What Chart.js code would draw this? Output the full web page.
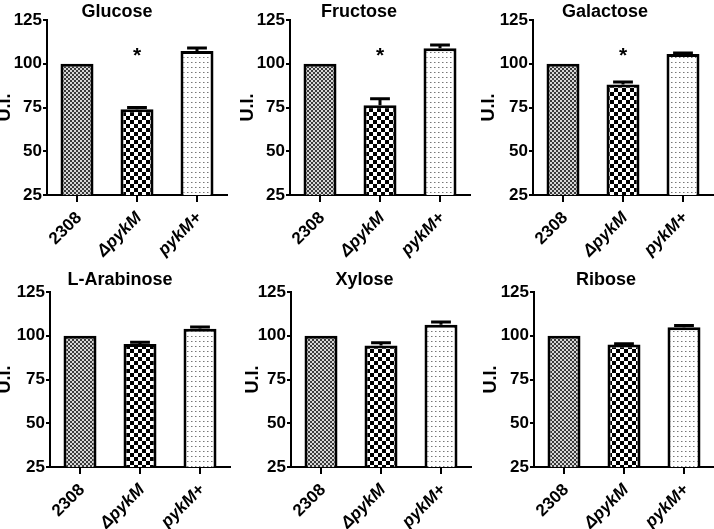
<!DOCTYPE html>
<html>
<head>
<meta charset="utf-8">
<script src="https://cdn.jsdelivr.net/npm/chart.js@4.4.0/dist/chart.umd.min.js"></script>
<style>
  html, body { margin: 0; padding: 0; background: #fff; overflow: hidden; width: 714px; height: 529px; }
  canvas { position: absolute; }
</style>
</head>
<body>
<div id="wrap"></div>
<script>
const categories = ['2308', '\u0394pykM', 'pykM+'];
const yTicks = [25, 50, 75, 100, 125];
const sugarNames = ['Glucose', 'Fructose', 'Galactose', 'L-Arabinose', 'Xylose', 'Ribose'];

const glucoseMeans = [100, 74.0, 107.3];
const glucoseErrors = [0, 1.0, 1.7];
const fructoseMeans = [100, 76.3, 108.8];
const fructoseErrors = [0, 3.7, 1.9];
const galactoseMeans = [100, 88.2, 105.6];
const galactoseErrors = [0, 1.4, 0.5];
const arabinoseMeans = [100, 95.3, 104.0];
const arabinoseErrors = [0, 1.0, 1.0];
const xyloseMeans = [100, 94.5, 106.3];
const xyloseErrors = [0, 1.5, 1.5];
const riboseMeans = [100, 95.0, 104.8];
const riboseErrors = [0, 0.5, 1.0];

// significance marks, drawn at starLevel (y units)
const glucoseStars = ['', '*', ''];
const fructoseStars = ['', '*', ''];
const galactoseStars = ['', '*', ''];
const noStars = ['', '', ''];
const starLevel = 106.5;

const allMeans = [glucoseMeans, fructoseMeans, galactoseMeans, arabinoseMeans, xyloseMeans, riboseMeans];
const allErrors = [glucoseErrors, fructoseErrors, galactoseErrors, arabinoseErrors, xyloseErrors, riboseErrors];
const allStars = [glucoseStars, fructoseStars, galactoseStars, noStars, noStars, noStars];

// panel placement on the page; spacer = empty room right of the plot so the title centres like the original
const layout = [
  { left: -6,  top: 0,   width: 246, height: 263, axisW: 53, spacer: 13, row: 0 },
  { left: 237, top: 0,   width: 244, height: 263, axisW: 53, spacer: 11, row: 0 },
  { left: 478, top: 0,   width: 254, height: 263, axisW: 55, spacer: 19, row: 0 },
  { left: -6,  top: 269, width: 252, height: 260, axisW: 56, spacer: 16, row: 1 },
  { left: 242, top: 269, width: 245, height: 260, axisW: 49, spacer: 16, row: 1 },
  { left: 480, top: 269, width: 252, height: 260, axisW: 54, spacer: 18, row: 1 }
];
const titlePadding = [{ top: 3, bottom: -1 }, { top: 2, bottom: 3 }];
const xAxisHeight = [68, 62];

const FONT = '"Liberation Sans", Arial, Helvetica, sans-serif';

const makePattern = (size, paint) => {
  const c = document.createElement('canvas');
  c.width = size[0]; c.height = size[1];
  const g = c.getContext('2d');
  g.fillStyle = '#fff';
  g.fillRect(0, 0, c.width, c.height);
  paint(g);
  return document.createElement('canvas').getContext('2d').createPattern(c, 'repeat');
};

// fine crosshatch for 2308
const finePattern = makePattern([4, 4], g => {
  g.fillStyle = '#3a3a3a';
  g.fillRect(0, 0, 2, 2);
  g.fillRect(2, 2, 2, 2);
  g.fillStyle = '#d6d6d6';
  g.fillRect(2, 0, 2, 2);
  g.fillRect(0, 2, 2, 2);
});
// coarse checkerboard for the mutant
const checkPattern = makePattern([8, 8], g => {
  g.fillStyle = '#000';
  g.fillRect(0, 0, 4, 4);
  g.fillRect(4, 4, 4, 4);
});
// sparse dots for the complemented strain
const dotPattern = makePattern([4, 5], g => {
  g.fillStyle = '#777';
  g.fillRect(1, 2, 1, 1);
  g.fillStyle = '#bbb';
  g.fillRect(2, 2, 1, 1);
});

const errorBarPlugin = {
  id: 'errorBars',
  afterDatasetsDraw(chart) {
    const ds = chart.data.datasets[0];
    const meta = chart.getDatasetMeta(0);
    const yScale = chart.scales.y;
    const ctx = chart.ctx;
    ctx.save();
    ctx.strokeStyle = '#000';
    ctx.lineWidth = 3;
    meta.data.forEach((bar, i) => {
      const e = ds.errors[i];
      if (!e) return;
      const top = yScale.getPixelForValue(ds.data[i] + e);
      const half = bar.width * 0.3;
      ctx.beginPath();
      ctx.moveTo(bar.x, bar.y);
      ctx.lineTo(bar.x, top);
      ctx.moveTo(bar.x - half, top);
      ctx.lineTo(bar.x + half, top);
      ctx.stroke();
    });
    ctx.fillStyle = '#000';
    ctx.font = 'bold 21px ' + FONT;
    ctx.textAlign = 'center';
    ctx.textBaseline = 'alphabetic';
    meta.data.forEach((bar, i) => {
      const s = ds.stars[i];
      if (!s) return;
      const m = ctx.measureText(s);
      const cy = yScale.getPixelForValue(starLevel);
      ctx.fillText(s, bar.x, cy + (m.actualBoundingBoxAscent - m.actualBoundingBoxDescent) / 2);
    });
    ctx.restore();
  }
};

const wrap = document.getElementById('wrap');

sugarNames.forEach((name, k) => {
  const L = layout[k];
  const canvas = document.createElement('canvas');
  canvas.width = L.width;
  canvas.height = L.height;
  canvas.style.left = L.left + 'px';
  canvas.style.top = L.top + 'px';
  wrap.appendChild(canvas);

  new Chart(canvas.getContext('2d'), {
    type: 'bar',
    data: {
      labels: categories,
      datasets: [{
        data: allMeans[k],
        errors: allErrors[k],
        stars: allStars[k],
        yAxisID: 'y',
        backgroundColor: [finePattern, checkPattern, dotPattern],
        borderColor: '#000',
        borderWidth: 3,
        borderSkipped: false,
        barPercentage: 0.55,
        categoryPercentage: 1.0
      }]
    },
    options: {
      responsive: false,
      animation: false,
      layout: { padding: 0 },
      plugins: {
        legend: { display: false },
        tooltip: { enabled: false },
        title: {
          display: true,
          text: name,
          color: '#000',
          font: { family: FONT, size: 18, weight: 'bold', lineHeight: 1.0 },
          padding: titlePadding[L.row]
        }
      },
      scales: {
        x: {
          offset: true,
          grid: { display: true, offset: false, drawOnChartArea: false, drawTicks: true, tickLength: 7, color: '#000', lineWidth: 2 },
          border: { display: true, color: '#000', width: 2 },
          ticks: {
            color: '#000',
            autoSkip: false,
            minRotation: 45,
            maxRotation: 45,
            padding: 6,
            labelOffset: 2,
            font: (c) => ({ family: FONT, size: 17, weight: 'bold', style: c.index === 0 ? 'normal' : 'italic' })
          },
          afterFit: (scale) => { scale.height = xAxisHeight[L.row]; }
        },
        y: {
          position: 'left',
          min: yTicks[0],
          max: yTicks[yTicks.length - 1],
          grid: { display: true, drawOnChartArea: false, drawTicks: true, tickLength: 4, color: '#000', lineWidth: 2 },
          border: { display: true, color: '#000', width: 2 },
          ticks: {
            color: '#000',
            stepSize: yTicks[1] - yTicks[0],
            padding: 1,
            font: { family: FONT, size: 17, weight: 'bold' }
          },
          afterBuildTicks: (scale) => { scale.ticks = yTicks.map(v => ({ value: v })); },
          title: {
            display: true,
            text: 'U.I.',
            color: '#000',
            padding: 0,
            font: { family: FONT, size: 18, weight: 'bold', lineHeight: 1.2 }
          },
          afterFit: (scale) => { scale.width = L.axisW; }
        },
        spacer: {
          type: 'linear',
          position: 'right',
          display: true,
          grid: { display: false },
          border: { display: false },
          ticks: { display: false },
          afterFit: (scale) => { scale.width = L.spacer; }
        }
      }
    },
    plugins: [errorBarPlugin]
  });
});
</script>
</body>
</html>
